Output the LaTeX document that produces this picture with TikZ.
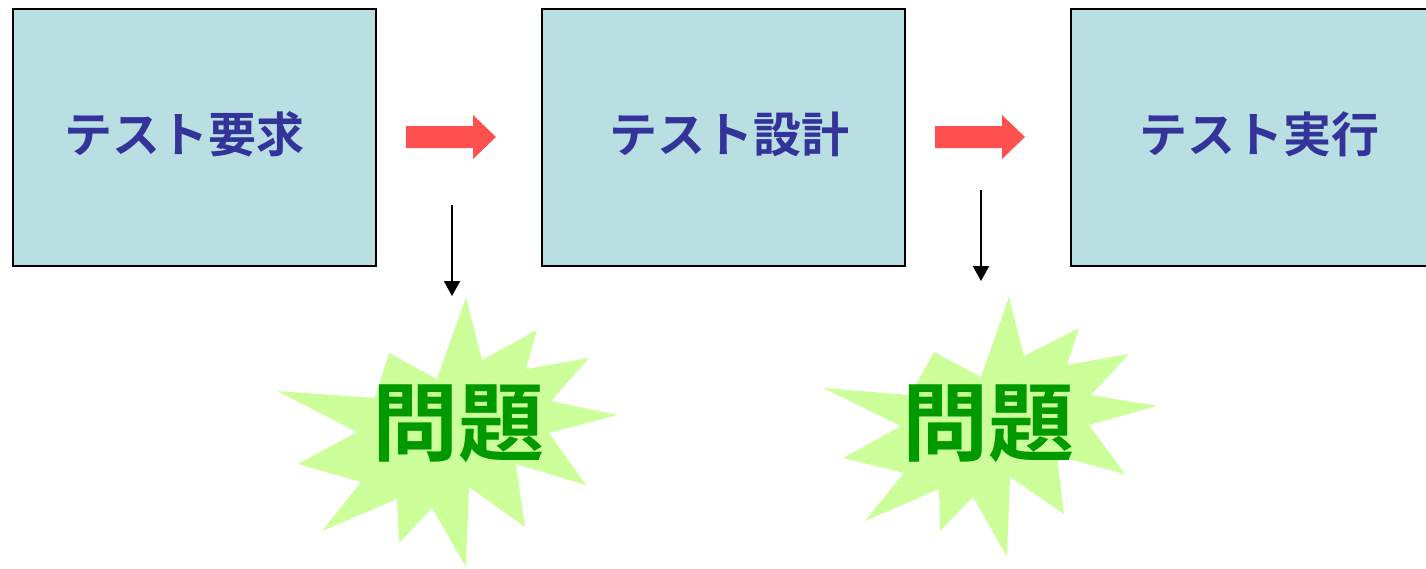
\documentclass[tikz,border=0pt]{standalone}
\usepackage{fontspec}
\newfontfamily\cjk{Noto Sans CJK JP}[BoldFont={Noto Sans CJK JP Bold}]
\usetikzlibrary{arrows.meta}
\definecolor{boxfill}{HTML}{BADFE2}
\definecolor{boxtext}{HTML}{333399}
\definecolor{redarrow}{HTML}{FF5050}
\definecolor{burst}{HTML}{CCFF99}
\definecolor{probgreen}{HTML}{009900}
\tikzset{
  stagebox/.style={draw=black, line width=2.5pt, fill=boxfill, minimum height=257pt, inner sep=0pt},
  stagetext/.style={text=boxtext, font=\cjk\bfseries\fontsize{48pt}{54pt}\selectfont, inner sep=0pt},
  probtext/.style={text=probgreen, font=\cjk\bfseries\fontsize{86pt}{96pt}\selectfont, inner sep=0pt},
  redblock/.style={fill=redarrow, draw=none},
  burstshape/.style={fill=burst, draw=none},
  downarrow/.style={draw=black, line width=2pt, -{Triangle[width=16pt,length=15pt]}}
}
\begin{document}
\begin{tikzpicture}[x=1pt,y=-1pt]
\useasboundingbox (0,0) rectangle (1426,568);
% stage boxes
\node[stagebox, minimum width=363pt] (b1) at (194.5,137.5) {};
\node[stagebox, minimum width=363pt] (b2) at (723.5,137.5) {};
\node[stagebox, minimum width=369pt] (b3) at (1255.5,137.5) {};
\node[stagetext] (t1) at (184,134) {テスト要求};
\node[stagetext] (t2) at (729,134) {テスト設計};
\node[stagetext] (t3) at (1259,134) {テスト実行};
% red block arrows
\path[redblock] (406,126) -- (473,126) -- (473,115) -- (496,137) -- (473,159) -- (473,148) -- (406,148) -- cycle;
\path[redblock] (935,126) -- (1002,126) -- (1002,115) -- (1025,137) -- (1002,159) -- (1002,148) -- (935,148) -- cycle;
% starbursts
\path[burstshape] (466,297) -- (482,360) -- (537,330) -- (526,369) -- (589,358) -- (551,401) -- (617,415) -- (549,433) -- (586,485) -- (516,464) -- (525,527) -- (469,487) -- (466,567) -- (432,508) -- (399,543) -- (397,499) -- (322,531) -- (361,482) -- (298,464) -- (357,432) -- (277,391) -- (375,398) -- (389,353) -- (437,379) -- cycle;
\path[burstshape] (1009,297) -- (1024,356) -- (1079,328) -- (1067,365) -- (1129,354) -- (1091,395) -- (1157,406) -- (1089,425) -- (1125,474) -- (1057,456) -- (1064,514) -- (1010,477) -- (1007,557) -- (973,497) -- (940,531) -- (939,489) -- (865,521) -- (904,473) -- (843,458) -- (901,426) -- (823,388) -- (910,395) -- (934,352) -- (981,377) -- cycle;
\node[probtext] (p1) at (458,424) {問題};
\node[probtext] (p2) at (988,424) {問題};
% black arrows
\coordinate (s1) at (452,205);
\coordinate (e1) at (452,296);
\coordinate (s2) at (981,190);
\coordinate (e2) at (981,281);
\draw[downarrow] (s1) -- (e1);
\draw[downarrow] (s2) -- (e2);
\end{tikzpicture}
\end{document}
